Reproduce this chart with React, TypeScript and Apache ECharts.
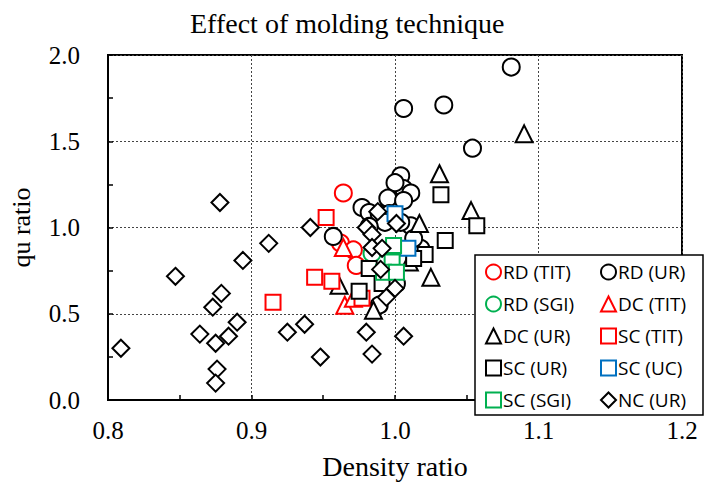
import React, { useEffect, useRef } from "react";
import * as echarts from "echarts";

const rdTit: [number, number][] = [
  [0.964, 1.2], [0.962, 0.91], [0.971, 0.87], [0.973, 0.78],
];
const rdUr: [number, number][] = [
  [1.081, 1.93], [1.034, 1.71], [1.006, 1.69], [1.054, 1.46],
  [1.004, 1.3], [1.006, 1.225], [1.0, 1.26], [1.011, 1.2], [0.995, 1.17],
  [1.006, 1.156], [0.977, 1.116], [0.982, 1.087], [0.989, 1.08], [0.996, 1.08],
  [0.993, 1.03], [0.982, 1.006], [1.011, 1.01], [1.004, 1.03], [0.957, 0.948],
  [1.018, 0.879], [1.013, 0.936], [0.989, 0.55], [1.001, 0.676],
];
const rdSgi: [number, number][] = [[0.984, 0.85]];
const dcTit: [number, number][] = [[0.964, 0.884], [0.965, 0.549], [0.971, 0.59]];
const dcUr: [number, number][] = [
  [1.09, 1.543], [1.031, 1.312], [1.053, 1.098], [1.017, 1.023],
  [1.025, 0.711], [0.985, 0.52], [0.961, 0.665], [1.01, 0.8],
];
const scTit: [number, number][] = [
  [0.915, 0.566], [0.944, 0.711], [0.956, 0.688], [0.952, 1.058], [0.977, 0.59],
];
const scUr: [number, number][] = [
  [1.032, 1.19], [1.057, 1.01], [1.035, 0.925], [1.021, 0.844],
  [0.982, 0.763], [0.975, 0.63], [0.991, 0.676], [1.013, 0.82],
];
const scUc: [number, number][] = [[1.0, 1.08], [1.009, 0.88]];
const scSgi: [number, number][] = [
  [0.999, 0.896], [0.998, 0.8], [0.992, 0.74], [1.001, 0.74],
];
const ncUr: [number, number][] = [
  [0.878, 1.145], [0.912, 0.908], [0.894, 0.809], [0.847, 0.717],
  [0.879, 0.618], [0.873, 0.538], [0.89, 0.451], [0.864, 0.382],
  [0.875, 0.329], [0.884, 0.37], [0.809, 0.3], [0.876, 0.179],
  [0.875, 0.098], [0.925, 0.393], [0.937, 0.439], [0.941, 1.0],
  [0.948, 0.249], [0.98, 0.393], [1.006, 0.37], [0.984, 0.266],
  [0.988, 1.092], [1.001, 1.023], [0.98, 1.0], [0.984, 0.96],
  [0.984, 0.884], [0.991, 0.879], [0.99, 0.757], [1.0, 0.647], [0.994, 0.595],
];

const xTicks = [0.8, 0.9, 1.0, 1.1, 1.2];
const yTicks = [0.0, 0.5, 1.0, 1.5, 2.0];

const leftCol = ["RD (TIT)", "RD (SGI)", "DC (UR)", "SC (UR)", "SC (SGI)"];
const rightCol = ["RD (UR)", "DC (TIT)", "SC (TIT)", "SC (UC)", "NC (UR)"];

const RED = "#ff0000";
const GREEN = "#00b050";
const BLUE = "#0070c0";
const BLACK = "#000000";

const seriesDefs = [
  { name: "RD (TIT)", data: rdTit, symbol: "circle", color: RED, size: 17 },
  { name: "RD (UR)", data: rdUr, symbol: "circle", color: BLACK, size: 17 },
  { name: "RD (SGI)", data: rdSgi, symbol: "circle", color: GREEN, size: 17 },
  { name: "DC (TIT)", data: dcTit, symbol: "triangle", color: RED, size: 17 },
  { name: "DC (UR)", data: dcUr, symbol: "triangle", color: BLACK, size: 17 },
  { name: "SC (TIT)", data: scTit, symbol: "rect", color: RED, size: 15 },
  { name: "SC (UR)", data: scUr, symbol: "rect", color: BLACK, size: 15 },
  { name: "SC (UC)", data: scUc, symbol: "rect", color: BLUE, size: 15 },
  { name: "SC (SGI)", data: scSgi, symbol: "rect", color: GREEN, size: 15 },
  { name: "NC (UR)", data: ncUr, symbol: "diamond", color: BLACK, size: 17 },
];

const SERIF = "'Liberation Serif', 'Times New Roman', serif";
const SANS = "'Open Sans', 'Noto Sans', sans-serif";

export default function App() {
  const ref = useRef<HTMLDivElement>(null);
  useEffect(() => {
    if (!ref.current) return;
    const chart = echarts.init(ref.current, undefined, { renderer: "svg" });
    const legendBase = {
      orient: "vertical",
      top: 261,
      itemWidth: 15,
      itemHeight: 15,
      itemGap: 10,
      selectedMode: false,
      padding: 0,
      textStyle: { fontFamily: SANS, fontSize: 19, color: "#000", lineHeight: 22, padding: [0, 0, 0, -3] },
    };
    chart.setOption({
      animation: false,
      backgroundColor: "#fff",
      title: {
        text: "Effect of molding technique",
        left: 185,
        top: 4,
        textStyle: { fontFamily: SERIF, fontSize: 28, fontWeight: "normal", color: "#000" },
      },
      grid: {
        left: 105,
        right: 24,
        top: 55,
        bottom: 90,
        show: true,
        borderColor: "#000",
        borderWidth: 2,
        backgroundColor: "transparent",
      },
      xAxis: {
        type: "value",
        min: xTicks[0],
        max: xTicks[xTicks.length - 1],
        interval: 0.1,
        name: "Density ratio",
        nameLocation: "middle",
        nameGap: 52,
        nameTextStyle: { fontFamily: SERIF, fontSize: 28, color: "#000" },
        axisLine: { show: true, lineStyle: { color: "#000", width: 2 } },
        axisTick: { show: true, inside: true, length: 5, lineStyle: { color: "#000", width: 1.5 } },
        minorTick: { show: true, splitNumber: 2, length: 5, lineStyle: { color: "#000", width: 1.5 } },
        axisLabel: {
          fontFamily: SERIF,
          fontSize: 25,
          color: "#000",
          margin: 18,
          formatter: (v: number) => v.toFixed(1),
        },
        splitLine: { show: true, lineStyle: { color: "#444", type: [2, 2], width: 1 } },
      },
      yAxis: {
        type: "value",
        min: yTicks[0],
        max: yTicks[yTicks.length - 1],
        interval: 0.5,
        name: "qu ratio",
        nameLocation: "middle",
        nameGap: 74,
        nameTextStyle: { fontFamily: SERIF, fontSize: 26, color: "#000" },
        axisLine: { show: true, lineStyle: { color: "#000", width: 2 } },
        axisTick: { show: true, inside: true, length: 5, lineStyle: { color: "#000", width: 1.5 } },
        minorTick: { show: true, splitNumber: 2, length: 5, lineStyle: { color: "#000", width: 1.5 } },
        axisLabel: {
          fontFamily: SERIF,
          fontSize: 25,
          color: "#000",
          margin: 28,
          formatter: (v: number) => v.toFixed(1),
        },
        splitLine: { show: true, lineStyle: { color: "#444", type: [2, 2], width: 1 } },
      },
      legend: [
        { ...legendBase, left: 485, data: leftCol },
        { ...legendBase, left: 600, data: rightCol },
      ],
      graphic: {
        elements: [
          {
            type: "rect",
            z: 3,
            shape: { x: 475, y: 255, width: 228, height: 160 },
            style: { fill: "#fff", stroke: "#000", lineWidth: 1.5 },
          },
        ],
      },
      series: seriesDefs.map((s) => ({
        name: s.name,
        type: "scatter",
        data: s.data,
        symbol: s.symbol,
        symbolSize: s.size,
        itemStyle: { color: "#fff", borderColor: s.color, borderWidth: 2, opacity: 1 },
        emphasis: { disabled: true },
      })),
    });
    return () => chart.dispose();
  }, []);
  return (
    <div
      ref={ref}
      style={{ position: "absolute", left: 0, top: 0, width: 706, height: 490 }}
    />
  );
}
